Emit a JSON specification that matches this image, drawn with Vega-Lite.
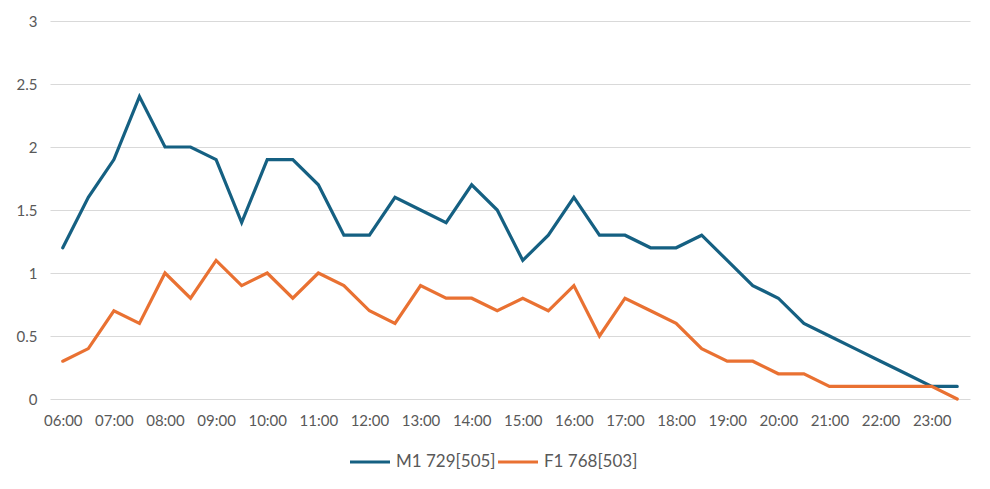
{
  "$schema": "https://vega.github.io/schema/vega-lite/v6.json",
  "width": 920,
  "height": 378,
  "autosize": "none",
  "padding": {"left": 50, "top": 21, "right": 20, "bottom": 90},
  "background": "white",
  "data": {
    "values": [
      {"t": "06:00", "s": "M1 729[505]", "v": 1.2}, {"t": "06:30", "s": "M1 729[505]", "v": 1.6},
      {"t": "07:00", "s": "M1 729[505]", "v": 1.9}, {"t": "07:30", "s": "M1 729[505]", "v": 2.4},
      {"t": "08:00", "s": "M1 729[505]", "v": 2.0}, {"t": "08:30", "s": "M1 729[505]", "v": 2.0},
      {"t": "09:00", "s": "M1 729[505]", "v": 1.9}, {"t": "09:30", "s": "M1 729[505]", "v": 1.4},
      {"t": "10:00", "s": "M1 729[505]", "v": 1.9}, {"t": "10:30", "s": "M1 729[505]", "v": 1.9},
      {"t": "11:00", "s": "M1 729[505]", "v": 1.7}, {"t": "11:30", "s": "M1 729[505]", "v": 1.3},
      {"t": "12:00", "s": "M1 729[505]", "v": 1.3}, {"t": "12:30", "s": "M1 729[505]", "v": 1.6},
      {"t": "13:00", "s": "M1 729[505]", "v": 1.5}, {"t": "13:30", "s": "M1 729[505]", "v": 1.4},
      {"t": "14:00", "s": "M1 729[505]", "v": 1.7}, {"t": "14:30", "s": "M1 729[505]", "v": 1.5},
      {"t": "15:00", "s": "M1 729[505]", "v": 1.1}, {"t": "15:30", "s": "M1 729[505]", "v": 1.3},
      {"t": "16:00", "s": "M1 729[505]", "v": 1.6}, {"t": "16:30", "s": "M1 729[505]", "v": 1.3},
      {"t": "17:00", "s": "M1 729[505]", "v": 1.3}, {"t": "17:30", "s": "M1 729[505]", "v": 1.2},
      {"t": "18:00", "s": "M1 729[505]", "v": 1.2}, {"t": "18:30", "s": "M1 729[505]", "v": 1.3},
      {"t": "19:00", "s": "M1 729[505]", "v": 1.1}, {"t": "19:30", "s": "M1 729[505]", "v": 0.9},
      {"t": "20:00", "s": "M1 729[505]", "v": 0.8}, {"t": "20:30", "s": "M1 729[505]", "v": 0.6},
      {"t": "21:00", "s": "M1 729[505]", "v": 0.5}, {"t": "21:30", "s": "M1 729[505]", "v": 0.4},
      {"t": "22:00", "s": "M1 729[505]", "v": 0.3}, {"t": "22:30", "s": "M1 729[505]", "v": 0.2},
      {"t": "23:00", "s": "M1 729[505]", "v": 0.1}, {"t": "23:30", "s": "M1 729[505]", "v": 0.1},
      {"t": "06:00", "s": "F1 768[503]", "v": 0.3}, {"t": "06:30", "s": "F1 768[503]", "v": 0.4},
      {"t": "07:00", "s": "F1 768[503]", "v": 0.7}, {"t": "07:30", "s": "F1 768[503]", "v": 0.6},
      {"t": "08:00", "s": "F1 768[503]", "v": 1.0}, {"t": "08:30", "s": "F1 768[503]", "v": 0.8},
      {"t": "09:00", "s": "F1 768[503]", "v": 1.1}, {"t": "09:30", "s": "F1 768[503]", "v": 0.9},
      {"t": "10:00", "s": "F1 768[503]", "v": 1.0}, {"t": "10:30", "s": "F1 768[503]", "v": 0.8},
      {"t": "11:00", "s": "F1 768[503]", "v": 1.0}, {"t": "11:30", "s": "F1 768[503]", "v": 0.9},
      {"t": "12:00", "s": "F1 768[503]", "v": 0.7}, {"t": "12:30", "s": "F1 768[503]", "v": 0.6},
      {"t": "13:00", "s": "F1 768[503]", "v": 0.9}, {"t": "13:30", "s": "F1 768[503]", "v": 0.8},
      {"t": "14:00", "s": "F1 768[503]", "v": 0.8}, {"t": "14:30", "s": "F1 768[503]", "v": 0.7},
      {"t": "15:00", "s": "F1 768[503]", "v": 0.8}, {"t": "15:30", "s": "F1 768[503]", "v": 0.7},
      {"t": "16:00", "s": "F1 768[503]", "v": 0.9}, {"t": "16:30", "s": "F1 768[503]", "v": 0.5},
      {"t": "17:00", "s": "F1 768[503]", "v": 0.8}, {"t": "17:30", "s": "F1 768[503]", "v": 0.7},
      {"t": "18:00", "s": "F1 768[503]", "v": 0.6}, {"t": "18:30", "s": "F1 768[503]", "v": 0.4},
      {"t": "19:00", "s": "F1 768[503]", "v": 0.3}, {"t": "19:30", "s": "F1 768[503]", "v": 0.3},
      {"t": "20:00", "s": "F1 768[503]", "v": 0.2}, {"t": "20:30", "s": "F1 768[503]", "v": 0.2},
      {"t": "21:00", "s": "F1 768[503]", "v": 0.1}, {"t": "21:30", "s": "F1 768[503]", "v": 0.1},
      {"t": "22:00", "s": "F1 768[503]", "v": 0.1}, {"t": "22:30", "s": "F1 768[503]", "v": 0.1},
      {"t": "23:00", "s": "F1 768[503]", "v": 0.1}, {"t": "23:30", "s": "F1 768[503]", "v": 0.0}
    ]
  },
  "mark": {"type": "line", "strokeWidth": 3.2, "strokeCap": "round", "strokeJoin": "miter"},
  "encoding": {
    "x": {
      "field": "t",
      "type": "ordinal",
      "sort": null,
      "scale": {"type": "point", "padding": 0.5},
      "axis": {
        "title": null,
        "ticks": false,
        "domain": false,
        "grid": false,
        "labelAngle": 0,
        "labelPadding": 14,
        "labelExpr": "indexof(datum.label, ':30') > 0 ? '' : datum.label"
      }
    },
    "y": {
      "field": "v",
      "type": "quantitative",
      "scale": {"domain": [0, 3], "nice": false},
      "axis": {
        "title": null,
        "values": [0, 0.5, 1, 1.5, 2, 2.5, 3],
        "format": "~g",
        "ticks": false,
        "domain": false,
        "labelPadding": 13,
        "gridColor": "#d9d9d9",
        "gridWidth": 1
      }
    },
    "color": {
      "field": "s",
      "type": "nominal",
      "scale": {"domain": ["M1 729[505]", "F1 768[503]"], "range": ["#156082", "#E97132"]},
      "legend": {
        "title": null,
        "orient": "none",
        "legendX": 298,
        "legendY": 419,
        "direction": "horizontal",
        "symbolType": "stroke",
        "symbolSize": 1600,
        "symbolStrokeWidth": 3.2,
        "symbolOffset": 0,
        "labelOffset": 4,
        "labelFontSize": 17,
        "labelColor": "#595959",
        "columnPadding": -5,
        "padding": 0
      }
    }
  },
  "config": {
    "font": "Lato",
    "view": {"stroke": null},
    "axis": {"labelFontSize": 15, "labelColor": "#595959"}
  }
}
